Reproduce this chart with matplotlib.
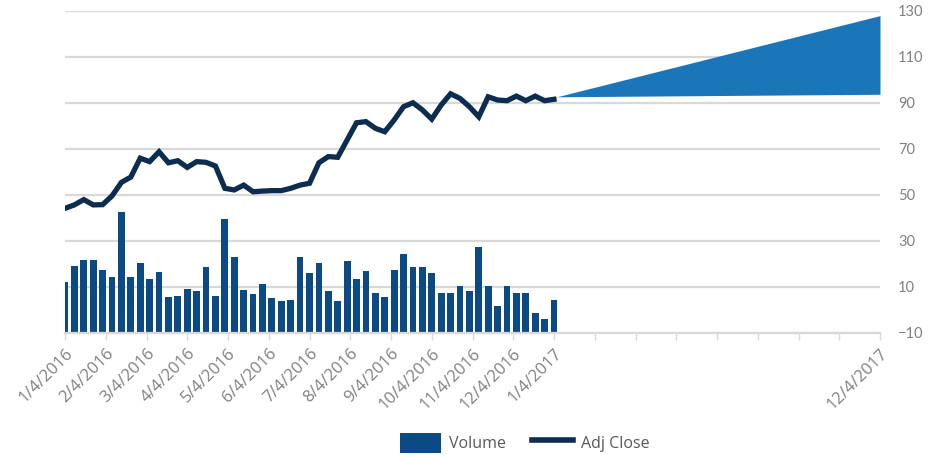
import matplotlib
matplotlib.use('Agg')
import matplotlib.pyplot as plt
import numpy as np
from matplotlib.patches import Patch
from matplotlib.lines import Line2D

# Datos semanales (1/4/2016 - 1/2/2017)
volume = [12.3, 19.3, 21.6, 21.7, 17.4, 14.5, 42.5, 14.5, 20.3, 13.3,
          16.5, 5.8, 6.0, 9.3, 8.3, 18.8, 6.0, 39.4, 23.0, 8.7,
          7.0, 11.2, 5.4, 4.0, 4.3, 23.2, 16.0, 20.5, 8.3, 4.0,
          21.3, 13.6, 16.8, 7.2, 5.7, 17.4, 24.5, 18.6, 18.7, 16.1,
          7.2, 7.5, 10.4, 8.3, 27.4, 10.4, 1.7, 10.4, 7.5, 7.2,
          -1.2, -3.8, 4.3]
adj_close = [44.2, 45.7, 48.0, 45.7, 45.8, 49.6, 55.5, 57.8, 66.0, 64.5,
             68.8, 64.0, 64.9, 62.0, 64.5, 64.2, 62.6, 52.9, 52.2, 54.3,
             51.4, 51.7, 51.9, 51.9, 52.9, 54.3, 55.1, 64.0, 66.7, 66.4,
             73.9, 81.4, 81.9, 79.0, 77.5, 82.6, 88.4, 90.1, 87.0, 83.0,
             89.1, 94.0, 92.0, 88.4, 84.0, 92.7, 91.3, 91.0, 93.0, 91.0,
             93.0, 91.0, 91.6]
# Banda de previsión (inicio y fin)
forecast_low = [92.7, 93.8]
forecast_high = [92.7, 128.0]

month_labels = ["1/4/2016", "2/4/2016", "3/4/2016", "4/4/2016", "5/4/2016",
                "6/4/2016", "7/4/2016", "8/4/2016", "9/4/2016", "10/4/2016",
                "11/4/2016", "12/4/2016", "1/4/2017"]
end_label = "12/4/2017"
y_ticks = [-10, 10, 30, 50, 70, 90, 110, 130]

BAR_COLOR = '#0b4a84'
LINE_COLOR = '#0c2d4f'
AREA_COLOR = '#1a76b8'
GRID_COLOR = '#d9d9d9'
TEXT_COLOR = '#808080'

weeks = np.arange(len(volume))
per_month = 52 / 12
tick_pos = np.arange(21) * per_month
tick_labels = month_labels + [""] * 7 + [end_label]
forecast_x = [12 * per_month + 0.3, tick_pos[-1]]

fig = plt.figure(figsize=(9.3, 4.55), dpi=100)
ax = fig.add_axes([65 / 930, 122 / 455, 815 / 930, 322 / 455])

base = -10
ax.bar(weeks, np.array(volume) - base, bottom=base, width=0.72,
       color=BAR_COLOR, zorder=2)
ax.plot(weeks, adj_close, color=LINE_COLOR, linewidth=3.8, zorder=4,
        solid_joinstyle='miter')
ax.fill_between(forecast_x, forecast_low, forecast_high, color=AREA_COLOR,
                linewidth=0, zorder=3)

ax.set_xlim(0, tick_pos[-1])
ax.set_ylim(-10, 130)
ax.set_yticks(y_ticks)
ax.yaxis.tick_right()
ax.tick_params(axis='y', length=0, pad=13, labelsize=10.5, labelcolor=TEXT_COLOR)
ax.grid(axis='y', color=GRID_COLOR, linewidth=1.6, zorder=0)
ax.set_axisbelow(True)

ax.set_xticks(tick_pos)
ax.set_xticklabels(tick_labels, rotation=45, ha='right',
                   rotation_mode='anchor', fontsize=12, color=TEXT_COLOR,
                   family='Open Sans')
ax.tick_params(axis='x', length=5, width=1, color=GRID_COLOR, pad=4)

for side in ['top', 'right', 'left']:
    ax.spines[side].set_visible(False)
ax.spines['bottom'].set_color(GRID_COLOR)
ax.spines['bottom'].set_linewidth(1.6)

for lab in ax.get_yticklabels():
    lab.set_family('Lato')

handles = [Patch(facecolor=BAR_COLOR, label="Volume"),
           Line2D([0], [0], color=LINE_COLOR, linewidth=4, label="Adj Close")]
fig.legend(handles=handles, loc='center', bbox_to_anchor=(525 / 930, 1 - 443 / 455),
           ncol=2, frameon=False, handlelength=2.6, handleheight=1.6,
           handletextpad=0.5, columnspacing=1.6, labelcolor='#595959',
           prop={'family': 'Open Sans', 'size': 11.5})

fig.savefig("out.png", dpi=100)
plt.close()
